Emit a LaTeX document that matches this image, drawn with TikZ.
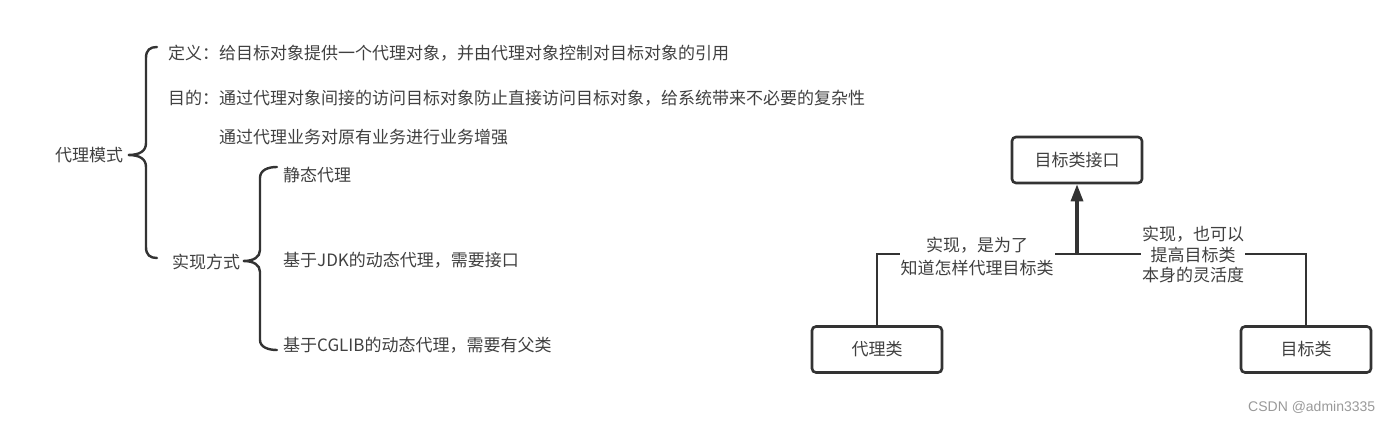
\documentclass[tikz,border=0pt]{standalone}
\usepackage{fontspec}
\setmainfont{Noto Sans CJK SC}
\newfontfamily\markfont{Liberation Sans}
\usetikzlibrary{arrows.meta}
\definecolor{ink}{HTML}{404040}
\definecolor{edge}{HTML}{333333}

\begin{document}
\begin{tikzpicture}[x = 1pt, y = -1pt,
    txt/.style = {anchor = west, inner sep = 0, text = ink, font = \fontsize{17}{23}\selectfont},
    box/.style = {draw = edge, line width = 2.6pt, rounded corners = 4pt, fill = white,
                  minimum width = 130pt, minimum height = 46pt, text = ink, font = \fontsize{17}{20}\selectfont},
    lbl/.style = {fill = white, inner sep = 1pt, align = center, text = ink},
    bracket/.style = {draw = edge, line width = 2.4pt, line cap = round},
    link/.style = {draw = edge, line width = 2.6pt},
    realize/.style = {draw = edge, line width = 3.2pt, -{Triangle[length = 17pt, width = 12pt]}}]
    \useasboundingbox (0,0) rectangle (1393,422);
    % mind map on the left
    \node[txt] (mode) at (55,155) {代理模式};
    \draw[bracket] (157,47) .. controls (150,47) and (146,50) .. (146,58) -- (146,143)
        .. controls (146,151) and (140,155) .. (128,155) .. controls (140,155) and (146,159) .. (146,167)
        -- (146,247) .. controls (146,255) and (150,258) .. (157,258);
    \node[txt] (def) at (168,53) {定义：给目标对象提供一个代理对象，并由代理对象控制对目标对象的引用};
    \node[txt] (goal) at (168,98) {目的：通过代理对象间接的访问目标对象防止直接访问目标对象，给系统带来不必要的复杂性};
    \node[txt] (boost) at (219,137) {通过代理业务对原有业务进行业务增强};
    \node[txt] (impl) at (172,262) {实现方式};
    \draw[bracket] (277,167) .. controls (268,167) and (260,170) .. (260,178) -- (260,250)
        .. controls (260,257) and (254,261) .. (243,261) .. controls (254,261) and (260,265) .. (260,272)
        -- (260,340) .. controls (260,347) and (268,350) .. (277,350);
    \node[txt] (static) at (283,175) {静态代理};
    \node[txt] (jdk) at (283,260) {基于JDK的动态代理，需要接口};
    \node[txt] (cglib) at (283,345) {基于CGLIB的动态代理，需要有父类};
    % class diagram on the right
    \node[box] (iface) at (1077,160) {目标类接口};
    \node[box] (proxy) at (877,349.5) {代理类};
    \node[box] (target) at (1306,349.5) {目标类};
    \coordinate (joint) at (1077,254);
    \draw[link] (proxy) |- (joint);
    \draw[link] (target) |- (joint);
    \draw[realize] (joint) -- (iface);
    \node[lbl, font = \fontsize{17}{23}\selectfont] (lblA) at (977,256) {实现，是为了\\知道怎样代理目标类};
    \node[lbl, font = \fontsize{17}{20.5}\selectfont] (lblB) at (1193,255) {实现，也可以\\提高目标类\\本身的灵活度};
    \node[anchor = west, inner sep = 0, text = black!40, font = \markfont\fontsize{14}{16}\selectfont] (mark) at (1248,407) {CSDN @admin3335};
\end{tikzpicture}
\end{document}
